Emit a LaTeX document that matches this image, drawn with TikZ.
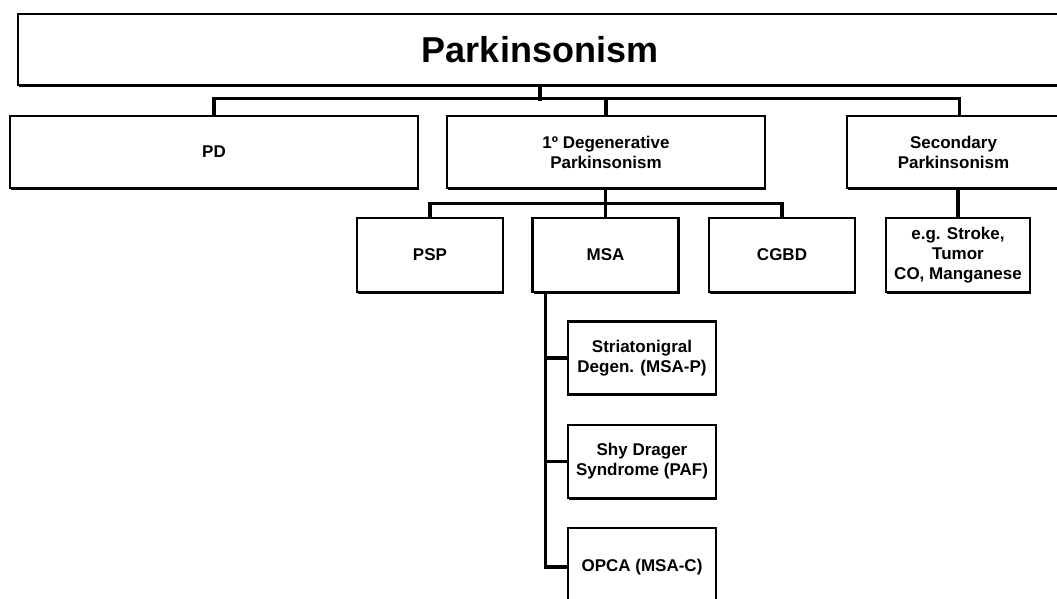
\documentclass[tikz,border=0pt]{standalone}
\usepackage{fontspec}
\setmainfont{Liberation Sans}
\usetikzlibrary{shadows}
\tikzset{ head/.style = { rectangle % top box
        , draw
        , line width = 2.6pt
        , fill = white
        , drop shadow = {shadow xshift=1.2pt, shadow yshift=-1.6pt, fill=black, opacity=1}
        , minimum width = 1044pt
        , minimum height = 71pt
        , font = \bfseries\fontsize{36}{40}\selectfont
        }
, box/.style = { rectangle % second row
        , draw
        , line width = 2.6pt
        , fill = white
        , drop shadow = {shadow xshift=1.2pt, shadow yshift=-1.6pt, fill=black, opacity=1}
        , minimum height = 72pt
        , align = center
        , inner sep = 0pt
        , font = \bfseries\fontsize{17}{20}\selectfont
        }
, sub/.style = { box % lower rows
        , minimum width = 146pt
        , minimum height = 74pt
        }
, ln/.style = { line width = 3.2pt % connector
        }
}
\begin{document}
\begin{tikzpicture}[x=1pt, y=-1pt]
\useasboundingbox[fill=white] (0,0) rectangle (1057,598);
\clip (0,0) rectangle (1057,598);

\node[head] (park) at (540,49.5) {Parkinsonism};

\node[box, minimum width=408pt] (pd) at (214,152) {PD};
\node[box, minimum width=318pt] (deg) at (606,152) {1º Degenerative\\Parkinsonism};
\node[box, minimum width=213pt] (sec) at (953.5,152) {Secondary\\Parkinsonism};

\node[sub] (psp) at (430,255) {PSP};
\node[sub] (msa) at (605.5,255) {MSA};
\node[sub] (cgbd) at (782,255) {CGBD};
\node[sub, minimum width=144pt] (eg) at (958,255) {e.g. Stroke,\\Tumor\\CO, Manganese};

\node[sub, minimum width=148pt, minimum height=73pt] (sn) at (642,358) {Striatonigral\\Degen. (MSA-P)};
\node[sub, minimum width=148pt, minimum height=73pt] (sd) at (642,461.5) {Shy Drager\\Syndrome (PAF)};
\node[sub, minimum width=148pt, minimum height=78pt] (opca) at (642,567) {OPCA (MSA-C)};

% tree lines
\draw[ln] (park.south) -- ++(0,15);
\draw[ln] (pd.north) -- ++(0,-16) -| ([xshift=6pt]sec.north);
\draw[ln] (deg.north) -- ++(0,-16);

\draw[ln] (psp.north) -- ++(0,-13) -| (cgbd.north);
\draw[ln] (msa.north) -- (msa.north |- deg.south);
\draw[ln] (eg.north) -- (eg.north |- sec.south);

\coordinate (m) at ([xshift=14pt]msa.south west);
\draw[ln] (m) |- (opca.west);
\draw[ln] (sn.west) -- (sn.west -| m);
\draw[ln] (sd.west) -- (sd.west -| m);
\end{tikzpicture}
\end{document}
